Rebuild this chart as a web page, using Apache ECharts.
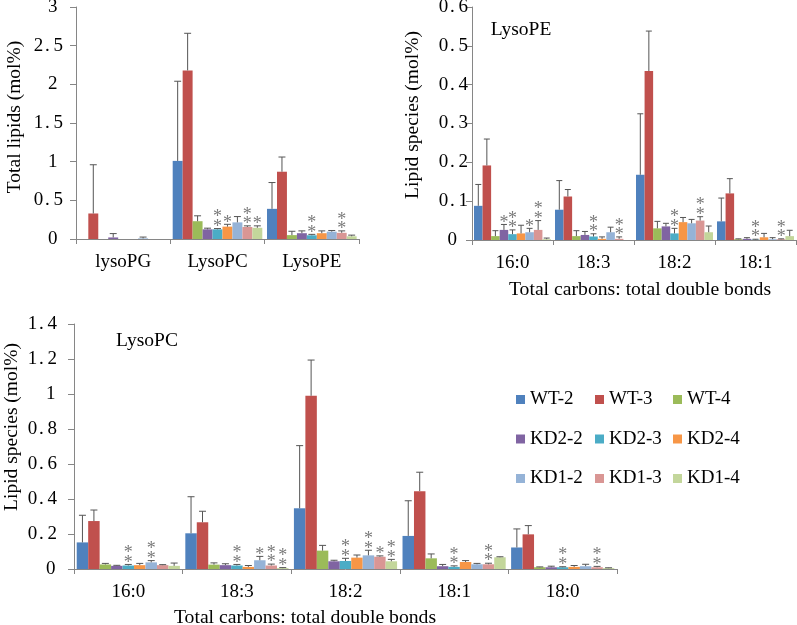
<!DOCTYPE html>
<html><head><meta charset="utf-8">
<script src="https://cdn.jsdelivr.net/npm/echarts@6/dist/echarts.min.js"></script>
<style>html,body{margin:0;padding:0;background:#fff}#c{width:797px;height:625px}</style>
</head><body><div id="c"></div>
<script>
const groups = ['WT-2','WT-3','WT-4','KD2-2','KD2-3','KD2-4','KD1-2','KD1-3','KD1-4'];
const colors = ['#4F81BD','#C0504D','#9BBB59','#8064A2','#4BACC6','#F79646','#95B3D7','#D99694','#C3D69B'];

// Panel 1: total lipids
const totalCats = ['lysoPG','LysoPC','LysoPE'];
const totalMean = [
  [0, 1.01, 0.39],
  [0.33, 2.18, 0.87],
  [0, 0.23, 0.05],
  [0.02, 0.125, 0.075],
  [0, 0.125, 0.048],
  [0, 0.16, 0.075],
  [0.008, 0.215, 0.095],
  [0, 0.155, 0.08],
  [0, 0.145, 0.035]
];
const totalErr = [
  [null, 2.04, 0.73],
  [0.96, 2.66, 1.06],
  [null, 0.30, 0.10],
  [0.07, 0.14, 0.105],
  [null, 0.135, 0.06],
  [null, 0.19, 0.105],
  [0.025, 0.29, 0.11],
  [null, 0.17, 0.105],
  [null, 0.17, 0.05]
];
const totalStars = [
  [0,0,0],[0,0,0],[0,0,0],[0,0,0],[0,2,2],[0,1,0],[0,0,0],[0,2,2],[0,1,0]
];

// Panel 2: LysoPE species
const peCats = ['16:0','18:3','18:2','18:1'];
const peMean = [
  [0.088, 0.078, 0.168, 0.048],
  [0.192, 0.112, 0.435, 0.12],
  [0.01, 0.01, 0.03, 0.002],
  [0.026, 0.013, 0.035, 0.003],
  [0.015, 0.009, 0.017, 0.001],
  [0.017, 0.003, 0.046, 0.007],
  [0.02, 0.02, 0.043, 0.002],
  [0.026, 0.003, 0.05, 0.002],
  [0.002, 0, 0.02, 0.01]
];
const peErr = [
  [0.143, 0.153, 0.325, 0.108],
  [0.26, 0.13, 0.538, 0.158],
  [0.024, 0.024, 0.048, 0.003],
  [0.04, 0.022, 0.043, 0.006],
  [0.026, 0.016, 0.03, 0.002],
  [0.038, 0.008, 0.058, 0.017],
  [0.03, 0.033, 0.053, 0.006],
  [0.05, 0.008, 0.06, 0.003],
  [0.005, null, 0.036, 0.025]
];
const peStars = [
  [0,0,0,0],[0,0,0,0],[0,0,0,0],[1,0,0,0],[2,2,2,2],[0,0,0,0],[1,0,0,0],[2,2,2,2],[0,0,0,0]
];

// Panel 3: LysoPC species
const pcCats = ['16:0','18:3','18:2','18:1','18:0'];
const pcMean = [
  [0.152, 0.204, 0.347, 0.189, 0.123],
  [0.274, 0.267, 0.99, 0.445, 0.198],
  [0.026, 0.025, 0.105, 0.061, 0.01],
  [0.018, 0.022, 0.044, 0.016, 0.01],
  [0.02, 0.02, 0.046, 0.012, 0.01],
  [0.022, 0.012, 0.065, 0.04, 0.012],
  [0.038, 0.05, 0.078, 0.027, 0.016],
  [0.022, 0.02, 0.07, 0.027, 0.01],
  [0.018, 0.005, 0.044, 0.067, 0.005]
];
const pcErr = [
  [0.307, 0.413, 0.705, 0.39, 0.229],
  [0.337, 0.33, 1.194, 0.553, 0.248],
  [0.032, 0.035, 0.135, 0.086, 0.012],
  [0.021, 0.03, 0.05, 0.026, 0.016],
  [0.026, 0.026, 0.061, 0.018, 0.013],
  [0.032, 0.02, 0.08, 0.048, 0.02],
  [0.048, 0.072, 0.107, 0.032, 0.027],
  [0.025, 0.028, 0.075, 0.033, 0.015],
  [0.034, 0.008, 0.055, 0.07, 0.007]
];
const pcStars = [
  [0,0,0,0,0],[0,0,0,0,0],[0,0,0,0,0],[0,0,0,0,0],[2,2,2,2,2],[0,0,0,0,0],[2,1,2,0,0],[0,2,1,2,2],[0,2,2,0,0]
];

const FONT = 'Liberation Serif, Times New Roman, serif';
const AX = '#868686';
const GAP = 0.05;
const HAIR = '\u200A', THIN = '\u2009', EN = '\u2002';

const chart = echarts.init(document.getElementById('c'), null, {renderer:'canvas'});

const panels = [
  {cats: totalCats, mean: totalMean, err: totalErr, stars: totalStars, max: 3, interval: 0.5, margin: 13, itail: THIN + HAIR,
   grid: {left: 76, top: 7, width: 283, height: 232}},
  {cats: peCats, mean: peMean, err: peErr, stars: peStars, max: 0.6, interval: 0.1, margin: 4, itail: EN + HAIR,
   grid: {left: 472, top: 7, width: 324, height: 233}},
  {cats: pcCats, mean: pcMean, err: pcErr, stars: pcStars, max: 1.4, interval: 0.2, margin: 17, itail: HAIR,
   grid: {left: 74, top: 324, width: 543, height: 245}}
];

const grids = [], xAxes = [], yAxes = [], series = [];
panels.forEach((p, pi) => {
  grids.push(Object.assign({containLabel: false, outerBoundsMode: 'none'}, p.grid));
  xAxes.push({
    type: 'category', gridIndex: pi, data: p.cats,
    axisLine: {lineStyle: {color: AX}},
    axisTick: {show: true, length: 5, lineStyle: {color: AX}},
    axisLabel: {fontFamily: FONT, fontSize: 19, color: '#000', margin: 14}
  });
  yAxes.push({
    type: 'value', gridIndex: pi, min: 0, max: p.max, interval: p.interval,
    splitLine: {show: false},
    axisLine: {show: true, lineStyle: {color: AX}},
    axisTick: {show: true, length: 6, lineStyle: {color: AX}},
    axisLabel: {
      fontFamily: FONT, fontSize: 19, color: '#000', margin: p.margin,
      formatter: v => {
        const r = String(parseFloat(v.toFixed(2)));
        if (r.indexOf('.') < 0) return r + p.itail;
        return r.replace('.', HAIR + '.' + THIN);
      }
    }
  });
  groups.forEach((g, s) => {
    series.push({
      type: 'bar', name: g, xAxisIndex: pi, yAxisIndex: pi,
      data: p.mean[s], barGap: '0%', barCategoryGap: (GAP * 100) + '%',
      itemStyle: {color: colors[s]}, animation: false
    });
  });
  const errData = [];
  groups.forEach((g, s) => {
    p.cats.forEach((c, ci) => {
      errData.push([ci, s, p.mean[s][ci], p.err[s][ci] == null ? p.mean[s][ci] : p.err[s][ci], p.stars[s][ci]]);
    });
  });
  series.push({
    type: 'custom', xAxisIndex: pi, yAxisIndex: pi, data: errData, z: 10, animation: false, silent: true,
    encode: {x: 0, y: 3},
    renderItem: (params, api) => {
      const ci = api.value(0), s = api.value(1), m = api.value(2), e = api.value(3), st = api.value(4);
      const base = api.coord([ci, m]);
      const top = api.coord([ci, e]);
      const catW = api.size([1, 0])[0];
      const barW = catW * (1 - GAP) / 9;
      const x = base[0] - catW * (1 - GAP) / 2 + (s + 0.5) * barW;
      const children = [];
      if (e > m) {
        const cap = Math.min(barW * 0.7, 7);
        children.push({type: 'line', shape: {x1: x, y1: base[1], x2: x, y2: top[1]}, style: {stroke: '#555', lineWidth: 1}});
        children.push({type: 'line', shape: {x1: x - cap / 2, y1: top[1], x2: x + cap / 2, y2: top[1]}, style: {stroke: '#555', lineWidth: 1}});
      }
      for (let k = 0; k < st; k++) {
        children.push({type: 'text', x: x, y: top[1] + 7.5 - k * 9.5,
          style: {text: '*', fontFamily: FONT, fontSize: 18, fill: '#7a7a7a', align: 'center', verticalAlign: 'bottom'}});
      }
      return {type: 'group', children: children};
    }
  });
});

function legendCol(left, names) {
  return {
    left: left, top: 390, orient: 'vertical', padding: 0, itemGap: 20.5,
    itemWidth: 9, itemHeight: 9, icon: 'rect', data: names,
    textStyle: {fontFamily: FONT, fontSize: 19, color: '#000'}
  };
}

function txt(x, y, t, rot, fs) {
  return {type: 'text', x: x, y: y, rotation: rot || 0, silent: true,
    style: {text: t, fontFamily: FONT, fontSize: fs || 19, fill: '#000', align: 'center', verticalAlign: 'middle'}};
}

chart.setOption({
  animation: false,
  backgroundColor: '#fff',
  grid: grids, xAxis: xAxes, yAxis: yAxes, series: series,
  legend: [
    legendCol(516, ['WT-2','KD2-2','KD1-2']),
    legendCol(595, ['WT-3','KD2-3','KD1-3']),
    legendCol(673, ['WT-4','KD2-4','KD1-4'])
  ],
  graphic: [
    txt(15, 117, 'Total lipids (mol%)', Math.PI / 2, 19.5),
    txt(413, 115, 'Lipid species (mol%)', Math.PI / 2, 19.5),
    txt(12, 427, 'Lipid species (mol%)', Math.PI / 2, 19.5),
    txt(521, 30, 'LysoPE', 0, 19.5),
    txt(147, 341, 'LysoPC', 0, 19.5),
    txt(640, 290, 'Total carbons: total double bonds', 0, 19.7),
    txt(305, 618, 'Total carbons: total double bonds', 0, 19.7)
  ]
});
</script></body></html>
